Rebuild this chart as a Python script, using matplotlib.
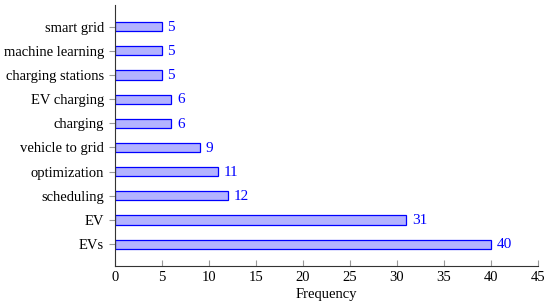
import matplotlib.pyplot as plt

# Keyword frequencies, bottom to top
keywords = ["EVs", "EV", "scheduling", "optimization", "vehicle to grid",
            "charging", "EV charging", "charging stations", "machine learning", "smart grid"]
counts = [40, 31, 12, 11, 9, 6, 6, 5, 5, 5]
xticks = [0, 5, 10, 15, 20, 25, 30, 35, 40, 45]

plt.rcParams['font.family'] = ['Liberation Serif', 'DejaVu Serif']
plt.rcParams['font.size'] = 10.5

fig = plt.figure(figsize=(5.5, 3.07), dpi=100)
ax = fig.add_axes([0.209, 0.134, 0.769, 0.85])

pos = list(range(len(keywords)))
ax.barh(pos, counts, height=0.38, color='#b3b3ff', edgecolor='#0000ff', linewidth=0.9)

# value labels next to each bar
for p, c in zip(pos, counts):
    ax.annotate(str(c), (c, p), xytext=(4, -0.5), textcoords='offset points',
                va='center', ha='left', color='#0000ff', fontsize=11)

ax.set_xlim(0, 45)
ax.set_ylim(-0.9, 9.9)
ax.set_xticks(xticks)
ax.set_yticks(pos)
ax.set_yticklabels(keywords)
ax.set_xlabel('Frequency', labelpad=3)

ax.spines['top'].set_visible(False)
ax.spines['right'].set_visible(False)
ax.spines['left'].set_color('#333333')
ax.spines['bottom'].set_color('#333333')
ax.tick_params(axis='x', direction='in', length=4, color='#999999', pad=3.5)
ax.tick_params(axis='y', direction='out', length=4, color='#999999', pad=4)

plt.savefig('out.png')
